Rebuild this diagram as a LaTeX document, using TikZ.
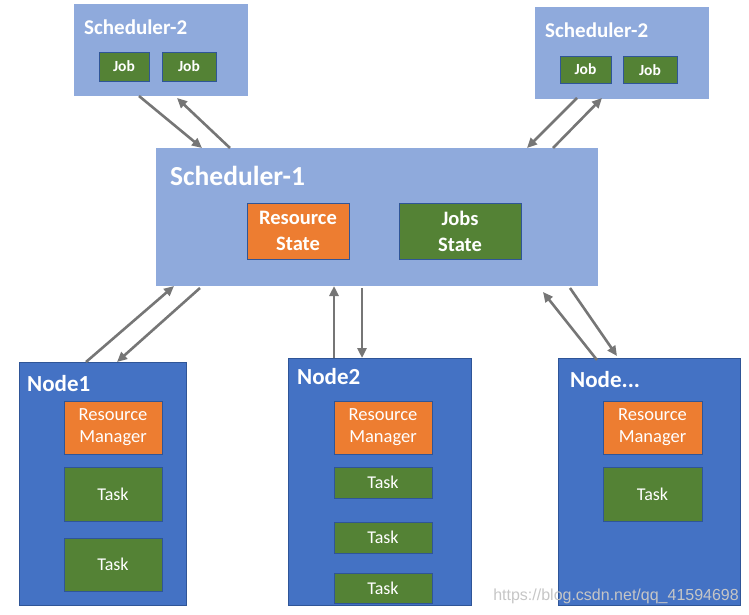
\documentclass[tikz,border=0pt]{standalone}
\usepackage{fontspec}
\setmainfont{Carlito}
\newfontfamily\markfont{Liberation Sans}
\usetikzlibrary{arrows.meta}
\definecolor{schedblue}{HTML}{8FAADC}
\definecolor{nodeblue}{HTML}{4472C4}
\definecolor{resorange}{HTML}{ED7D31}
\definecolor{taskgreen}{HTML}{548235}
\definecolor{edgeblue}{HTML}{2F5597}
\definecolor{arrowgray}{HTML}{767676}

\begin{document}
\begin{tikzpicture}[x=1pt,y=-1pt,
    sched/.style={fill=schedblue,draw=none,minimum width=#1,inner sep=0pt,outer sep=0pt},
    host/.style={fill=nodeblue,draw=edgeblue,line width=0.6pt,inner sep=0pt,outer sep=0pt},
    item/.style={draw=edgeblue,line width=0.8pt,inner sep=0pt,outer sep=0pt,text=white,align=center},
    job/.style={item,fill=taskgreen,font=\bfseries\fontsize{15.5}{16}\selectfont},
    res/.style={item,fill=resorange,font=\fontsize{18.5}{22}\selectfont},
    task/.style={item,fill=taskgreen,font=\fontsize{18}{20}\selectfont},
    title/.style={anchor=west,text=white,inner sep=0pt,font=\bfseries\fontsize{#1}{#1}\selectfont},
    link/.style={draw=arrowgray,line width=2.6pt,-{Triangle[length=10pt,width=9pt]}}]
        \useasboundingbox (0,0) rectangle (749,615);
        % schedulers
        \node[sched=174pt,minimum height=92pt] (s2a) at (161,50) {};
        \node[sched=174pt,minimum height=92pt] (s2b) at (622,53) {};
        \node[sched=442pt,minimum height=138pt] (s1) at (377,217) {};
        \node[title=21] at (84,27) {Scheduler-2};
        \node[title=21] at (545,30) {Scheduler-2};
        \node[title=27.5] at (170,176) {Scheduler-1};
        \node[job,minimum width=50pt,minimum height=29pt] (ja1) at (124,66.5) {Job};
        \node[job,minimum width=54pt,minimum height=29pt] (ja2) at (189,66.5) {Job};
        \node[job,minimum width=51pt,minimum height=27pt] (jb1) at (585.5,69.5) {Job};
        \node[job,minimum width=54pt,minimum height=27pt] (jb2) at (650,70) {Job};
        \node[item,fill=resorange,minimum width=102pt,minimum height=56pt,font=\bfseries\fontsize{20.5}{26}\selectfont] (rs) at (298,231) {Resource\\State};
        \node[item,fill=taskgreen,minimum width=122pt,minimum height=56pt,font=\bfseries\fontsize{20.5}{26}\selectfont] (js) at (460,231) {Jobs\\State};
        % worker nodes
        \node[host,minimum width=167pt,minimum height=243pt] (n1) at (102.5,483.5) {};
        \node[host,minimum width=183pt,minimum height=247pt] (n2) at (379.5,481.5) {};
        \node[host,minimum width=182pt,minimum height=247pt] (n3) at (649,481.5) {};
        \node[title=23] at (27,384) {Node1};
        \node[title=23] at (297,377) {Node2};
        \node[title=23] at (570,380) {Node...};
        \node[res,minimum width=98pt,minimum height=53pt] (rm1) at (113,427.5) {Resource\\Manager};
        \node[task,minimum width=98pt,minimum height=54pt] (t11) at (113,494) {Task};
        \node[task,minimum width=98pt,minimum height=53pt] (t12) at (113,564.5) {Task};
        \node[res,minimum width=98pt,minimum height=53pt] (rm2) at (383,427.5) {Resource\\Manager};
        \node[task,minimum width=98pt,minimum height=31pt] (t21) at (383,482.5) {Task};
        \node[task,minimum width=98pt,minimum height=31pt] (t22) at (383,537.5) {Task};
        \node[task,minimum width=98pt,minimum height=30pt] (t23) at (383,588) {Task};
        \node[res,minimum width=99pt,minimum height=53pt] (rm3) at (652.5,427.5) {Resource\\Manager};
        \node[task,minimum width=99pt,minimum height=54pt] (t31) at (652.5,494) {Task};
        % links
        \draw[link] ([xshift=-22pt]s2a.south) -- ([xshift=-175pt]s1.north);
        \draw[link] ([xshift=-147pt]s1.north) -- ([xshift=16pt,yshift=-2pt]s2a.south);
        \draw[link] ([xshift=-45pt,yshift=1pt]s2b.south) -- ([xshift=150pt]s1.north);
        \draw[link] ([xshift=176pt]s1.north) -- ([xshift=-20pt,yshift=1pt]s2b.south);
        \draw[link] ([xshift=-16.5pt]n1.north) -- ([xshift=-203pt]s1.south);
        \draw[link] ([xshift=-177pt,yshift=-2pt]s1.south) -- ([xshift=14.5pt]n1.north);
        \draw[link] ([xshift=-45.5pt]n2.north) -- ([xshift=-43pt]s1.south);
        \draw[link] ([xshift=-15pt,yshift=-2pt]s1.south) -- ([xshift=-17.5pt]n2.north);
        \draw[link] ([xshift=-52pt,yshift=-2pt]n3.north) -- ([xshift=166pt,yshift=-6pt]s1.south);
        \draw[link] ([xshift=193pt,yshift=-2pt]s1.south) -- ([xshift=-32pt,yshift=2pt]n3.north);
        % watermark
        \node[anchor=east,inner sep=0pt,text=gray!45,font=\markfont\fontsize{16}{16}\selectfont] (mark) at (739,596) {https://blog.csdn.net/qq\_41594698};
\end{tikzpicture}
\end{document}
